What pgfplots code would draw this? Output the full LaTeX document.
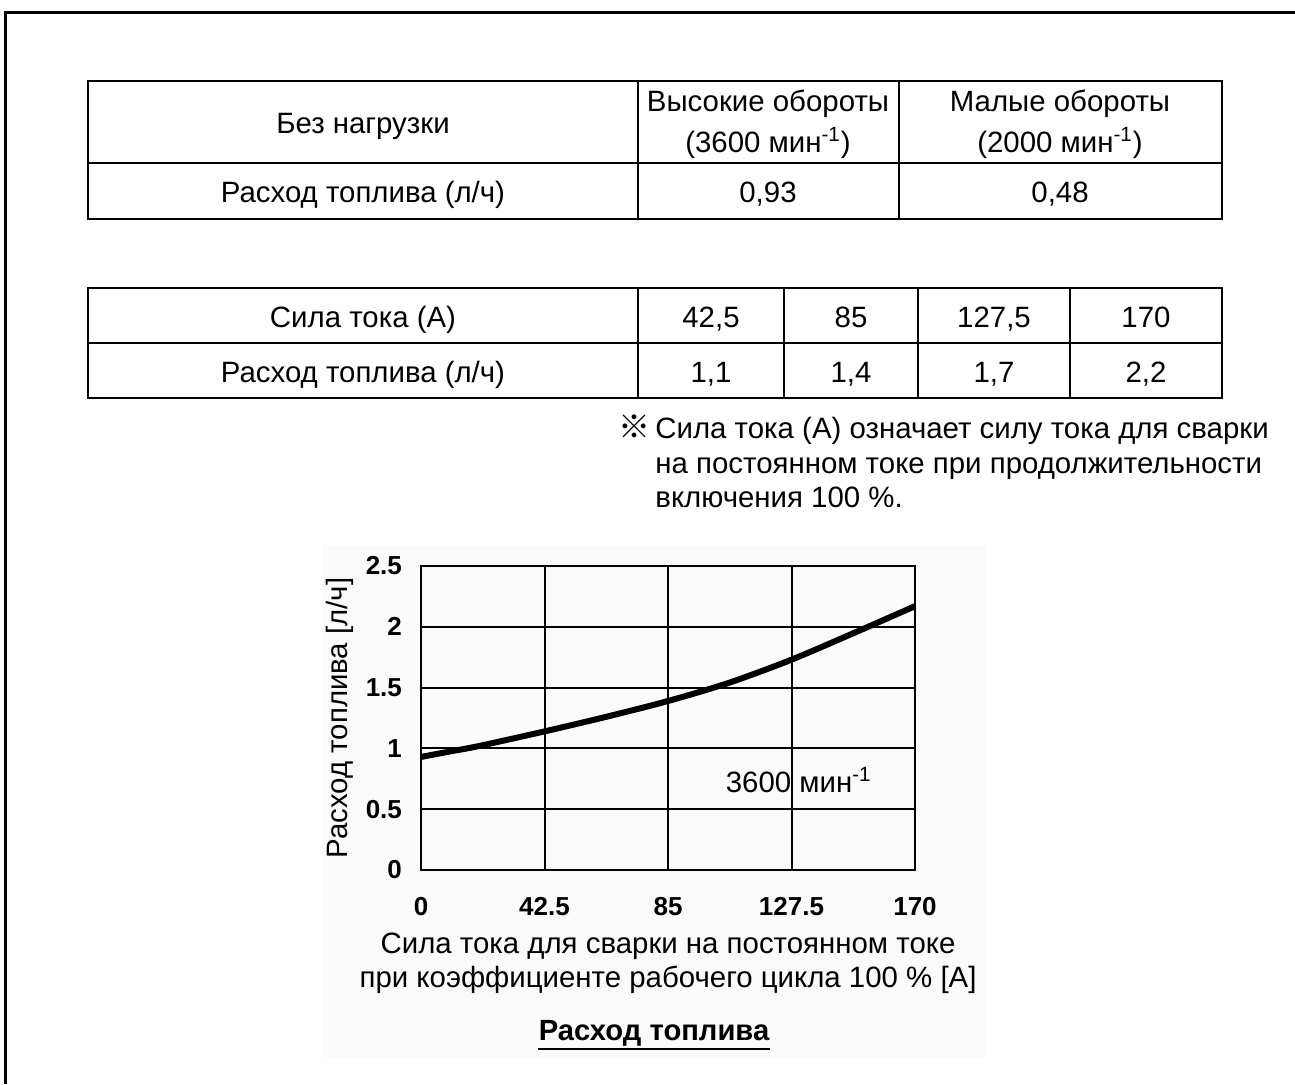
\documentclass[border=0pt]{standalone}
\usepackage{fontspec}
\setmainfont{Liberation Sans}
\newfontfamily\cjk{Noto Sans CJK JP}
\usepackage{pgfplots}
\pgfplotsset{compat=1.18}

\begin{document}
\begin{tikzpicture}[x=0.5pt,y=-0.5pt]
\useasboundingbox (0,0) rectangle (1295,1084);
\def\tfont{\fontsize{14.7}{17}\selectfont}
% text placed on its baseline
\newcommand\tx[3]{\node[font=\tfont, anchor=base, inner sep=0pt] at (#1,#2) {#3};}

% outer frame (right and bottom edges are cut off)
\draw[line width=1.5pt] (5,1084) -- (5,12) -- (1295,12);

% table 1: no load
\draw[line width=1.2pt] (88,81) rectangle (1222,219);
\draw[line width=1.2pt] (88,163) -- (1222,163);
\draw[line width=1.2pt] (638,81) -- (638,219);
\draw[line width=1.2pt] (899,81) -- (899,219);
\tx{363}{133}{Без нагрузки}
\tx{768}{111}{Высокие обороты}
\tx{768}{152}{(3600 мин\textsuperscript{-1})}
\tx{1060}{111}{Малые обороты}
\tx{1060}{152}{(2000 мин\textsuperscript{-1})}
\tx{363}{202}{Расход топлива (л/ч)}
\tx{768}{202}{0,93}
\tx{1060}{202}{0,48}

% table 2: load
\draw[line width=1.2pt] (88,288) rectangle (1222,398);
\draw[line width=1.2pt] (88,343) -- (1222,343);
\foreach \cx in {638,784,918,1070} \draw[line width=1.2pt] (\cx,288) -- (\cx,398);
\tx{363}{327}{Сила тока (А)}
\tx{711}{327}{42,5}
\tx{851}{327}{85}
\tx{994}{327}{127,5}
\tx{1146}{327}{170}
\tx{363}{382}{Расход топлива (л/ч)}
\tx{711}{382}{1,1}
\tx{851}{382}{1,4}
\tx{994}{382}{1,7}
\tx{1146}{382}{2,2}

% footnote
\node[font=\fontsize{16}{18}\selectfont\cjk, anchor=base west, inner sep=0pt] at (618,438) {※};
\node[font=\tfont, anchor=base west, inner sep=0pt] at (655,438) {Сила тока (А) означает силу тока для сварки};
\node[font=\tfont, anchor=base west, inner sep=0pt] at (655,473) {на постоянном токе при продолжительности};
\node[font=\tfont, anchor=base west, inner sep=0pt] at (655,507) {включения 100~\%.};

% chart backdrop
\fill[black!2] (322,545) rectangle (987,1057);

\begin{axis}[
  at={(210.5pt,-435pt)}, anchor=south west,
  width=247pt, height=152pt, scale only axis,
  xmin=0, xmax=170, ymin=0, ymax=2.5,
  xtick={0,42.5,85,127.5,170},
  ytick={0,0.5,1,1.5,2,2.5},
  grid=major,
  major grid style={black, line width=1pt},
  axis line style={black, line width=1pt},
  major tick length=0pt,
  /pgf/number format/assume math mode=true,
  ticklabel style={font=\bfseries\fontsize{13}{15}\selectfont},
  xticklabel style={yshift=-10pt},
  yticklabel style={xshift=-6pt},
  ylabel={Расход топлива [л/ч]},
  ylabel style={font=\tfont, yshift=-1pt},
  clip=false,
]
\addplot[black, line width=3pt, smooth] coordinates {
  (0,0.93) (10,0.975) (20,1.02) (42.5,1.14) (63.75,1.26)
  (85,1.39) (106,1.54) (127.5,1.73) (150,1.96) (170,2.17)
};
\node[font=\tfont, anchor=center] at (axis cs:130,0.74) {3600 мин\textsuperscript{-1}};
\end{axis}

\tx{668}{953}{Сила тока для сварки на постоянном токе}
\tx{668}{987}{при коэффициенте рабочего цикла 100~\% [А]}
\node[font=\bfseries\fontsize{14.6}{17}\selectfont, anchor=base, inner sep=0pt] (ttl) at (654,1040) {Расход топлива};
\draw[line width=1.2pt] (ttl.base west) ++(0,9) -- ++(232,0);
\end{tikzpicture}
\end{document}
